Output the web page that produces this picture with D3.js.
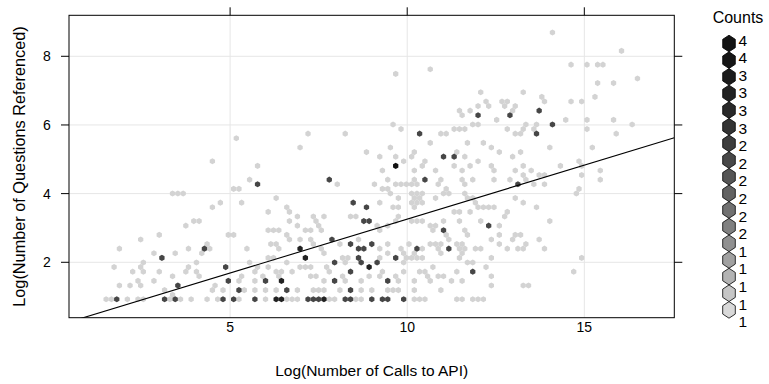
<!DOCTYPE html>
<html>
<head>
<meta charset="utf-8">
<script src="https://cdn.jsdelivr.net/npm/d3@7/dist/d3.min.js"></script>
<style>
html,body{margin:0;padding:0;background:#fff;}
svg{display:block;font-family:"Liberation Sans",Arial,Helvetica,sans-serif;}
</style>
</head>
<body>
<svg id="chart" width="769" height="384"></svg>
<script>
// ---------------- data ----------------
const xLabel = "Log(Number of Calls to API)";
const yLabel = "Log(Number of Questions Referenced)";
const legendTitle = "Counts";
const xTicks = [5, 10, 15];
const yTicks = [2, 4, 6, 8];
const xLimits = [0.452, 17.54];
const yLimits = [0.386, 9.194];
const legendLabels = ["4","4","3","3","3","3","2","2","2","2","2","2","1","1","1","1","1"]; // top to bottom
const fitCoef = [0.117, 0.3141]; // intercept, slope
const binOrigin = [1.80, 0.922];
const binStep = [0.15, 0.134];

// hexagon cells: [log questions, [log calls ...]]
const count1Cells = [
 [0.92,[1.50,1.65,2.10,2.40,2.55,3.30,3.60,3.90,4.35,4.65,5.25,6.00,6.60,6.75,6.90,7.80,7.95,8.55,8.70,10.20,10.35,10.50,11.40,11.55,11.85,12.00,12.15]],
 [1.06,[3.38]],
 [1.19,[3.15,4.50,4.80,5.40,5.70,6.00,6.30,6.90,7.35,7.50,7.65,8.10,8.70,9.00,9.45,9.60,9.75,10.20,10.95]],
 [1.32,[1.88,2.18,2.48,4.58,12.38,13.28,13.43]],
 [1.46,[2.40,2.85,5.25,5.70,7.65,8.25,8.70,9.75,10.20,10.65,11.25,11.55]],
 [1.59,[3.38,4.13,5.33,5.93,6.38,7.28,7.43,8.18,8.93,9.23,9.68,10.58,10.88,11.03,12.38]],
 [1.73,[2.25,2.55,3.00,3.75,4.05,5.70,6.30,6.45,6.75,7.80,9.30,9.90,10.35,10.50,11.40,14.70]],
 [1.86,[1.73,2.48,3.83,5.78,6.08,6.98,7.13,7.28,7.73,10.73,12.23]],
 [2.00,[2.55,4.05,5.55,6.60,8.25,9.90,11.70,11.85]],
 [2.13,[6.08,6.23,8.18,8.33,9.23,9.98,10.13,10.28,10.43,11.48,12.38,14.93]],
 [2.26,[2.85,3.45,4.20,7.65,9.45,9.90,10.20,10.95,11.55]],
 [2.40,[1.88,3.83,4.43,5.48,6.38,7.58,9.23,9.83,10.43,10.88,11.48,11.63,11.93,12.08,12.83,13.13,13.28,13.88]],
 [2.53,[4.35,6.15,6.30,7.35,8.10,9.45,10.05,10.65,10.80,10.95,11.40,11.55,12.60,13.35]],
 [2.66,[2.48,6.68,6.98,7.28,8.63,11.18,12.38,12.98,13.73]],
 [2.80,[3.00,4.95,5.10,6.60,11.10,11.70,12.60,13.05,13.20]],
 [2.93,[6.08,6.23,6.38,7.13,7.28,7.58,9.23,10.73,11.63]],
 [3.07,[3.75,6.90,7.50,9.15,9.45,10.65,10.80,12.60]],
 [3.20,[3.98,4.13,6.68,7.43,9.68,10.13,10.28,10.43,11.03,11.48,12.08,14.03]],
 [3.33,[6.90,7.35,7.65,8.40,8.55,9.75,12.75]],
 [3.47,[6.08,6.68,11.33,11.48,11.78,12.83]],
 [3.60,[4.50,6.60,9.60,9.75,10.20,12.00,12.15,12.30,12.45,13.65]],
 [3.74,[4.73,5.33,9.23,10.13,10.28,10.43,11.93,13.28]],
 [3.87,[6.30,9.75,10.20,10.35,10.80,11.70,11.85,13.05]],
 [4.00,[3.38,3.53,3.68,9.53,10.13,10.28,10.43,11.03,11.18,11.63,14.78]],
 [4.14,[5.10,5.25,9.30,9.45,11.10,14.85]],
 [4.27,[8.03,9.08,9.68,9.83,9.98,10.13,10.28,10.88,11.63,13.58,13.88]],
 [4.41,[5.55,9.45,10.20,10.95,11.55,11.85,12.45,12.90,13.35,15.45]],
 [4.54,[13.28,13.73,13.88,14.93]],
 [4.67,[9.30,10.20,10.80,11.55,12.45,13.05,13.50,15.45]],
 [4.81,[5.78,10.43,11.33,11.78,12.38,13.28,14.33,14.93]],
 [4.94,[4.50,9.90,10.50,12.00,14.85]],
 [5.08,[9.23,9.68,10.13,11.63,12.98]],
 [5.21,[8.85,10.20,11.40,12.60,13.20]],
 [5.34,[6.98,9.53,12.38,14.03,15.23]],
 [5.48,[10.65,11.70,12.15]],
 [5.61,[5.18]],
 [5.75,[7.20,8.25,10.95,11.10,13.05,13.20,15.90]],
 [5.88,[9.83,11.33,11.48,11.63,12.83,13.28,13.58,15.08]],
 [6.01,[9.60,11.85,12.00,13.35,13.65,16.35]],
 [6.15,[12.53,14.48,15.08,15.83]],
 [6.28,[11.55]],
 [6.42,[11.48,11.78,12.98]],
 [6.55,[12.00,12.30,12.75,13.05]],
 [6.68,[12.23,12.68,12.83,13.88,14.63,14.93]],
 [6.82,[13.80,15.30]],
 [6.95,[12.08,13.28]],
 [7.22,[15.38,15.83]],
 [7.35,[16.50]],
 [7.49,[9.68]],
 [7.62,[10.65]],
 [7.76,[14.63,15.08,15.38,15.53]],
 [8.16,[16.05]],
 [8.69,[14.10]]
];
const count2Cells = [
 [0.92,[1.80,3.15,3.45,4.80,5.10,5.70,7.20,7.35,7.50,8.25,8.40,9.00,9.30,9.45,9.90]],
 [1.19,[5.25,6.60,8.40]],
 [1.32,[3.53]],
 [1.46,[4.95,6.00,7.95,9.45]],
 [1.73,[8.40,11.85]],
 [1.86,[4.88]],
 [2.00,[7.95,8.70,9.15]],
 [2.13,[3.08,8.63,9.68]],
 [2.40,[4.28,8.63,8.78,10.28,11.18]],
 [2.53,[8.40,9.00]],
 [2.66,[7.88]],
 [2.93,[11.03]],
 [3.07,[12.30]],
 [3.20,[8.78,8.93]],
 [3.60,[8.85]],
 [3.74,[8.48]],
 [4.27,[5.78,13.13]],
 [4.41,[7.80,10.50]],
 [5.08,[11.03,11.33]],
 [5.75,[10.35,13.65]],
 [6.01,[14.10]],
 [6.28,[12.00,12.90]],
 [6.42,[13.73]]
];
const count3Cells = [
 [0.92,[6.30,6.45,7.65]],
 [1.46,[6.45]],
 [1.86,[8.93]],
 [2.13,[7.13]],
 [2.40,[6.98]]
];
const count4Cells = [
 [4.81,[9.68]]
];

// ---------------- drawing ----------------
const svg = d3.select("#chart");
const panel = {l: 69, r: 674.3, t: 15.3, b: 317.7};
const x = d3.scaleLinear().domain(xLimits).range([panel.l, panel.r]);
const y = d3.scaleLinear().domain(yLimits).range([panel.b, panel.t]);

// hexagonal binning of the cells
const raw = [];
[[count1Cells,1],[count2Cells,2],[count3Cells,3],[count4Cells,4]].forEach(([rows,c]) => {
  rows.forEach(([q, xs]) => xs.forEach(v => raw.push({x: v, y: q, n: c})));
});
function binKey(d) {
  const j = Math.round((d.y - binOrigin[1]) / binStep[1]);
  const off = (Math.abs(j) % 2) * binStep[0] / 2;
  const k = Math.round((d.x - binOrigin[0] - off) / binStep[0]);
  return j + "," + k;
}
const bins = d3.rollups(raw, v => d3.sum(v, d => d.n), binKey).map(([key, n]) => {
  const [j, k] = key.split(",").map(Number);
  const off = (Math.abs(j) % 2) * binStep[0] / 2;
  return {cx: binOrigin[0] + off + k * binStep[0], cy: binOrigin[1] + j * binStep[1], n};
});

const cellFill = n => n >= 4 ? "#121212" : n === 3 ? "#222222" : n === 2 ? "#464646" : "#d3d3d3";
const hexR = (x(binStep[0]) - x(0)) / Math.sqrt(3);
function hexPath(r) {
  const pts = d3.range(6).map(i => {
    const a = Math.PI / 3 * i;
    return [r * Math.sin(a), -r * Math.cos(a)];
  });
  return "M" + pts.map(p => p[0].toFixed(2) + "," + p[1].toFixed(2)).join("L") + "Z";
}

// grid lines
const grid = svg.append("g").attr("stroke", "#e6e6e6").attr("stroke-width", 1);
grid.selectAll("line.gx").data(xTicks).join("line")
  .attr("x1", d => x(d)).attr("x2", d => x(d)).attr("y1", panel.t).attr("y2", panel.b);
grid.selectAll("line.gy").data(yTicks).join("line").attr("class","gy")
  .attr("y1", d => y(d)).attr("y2", d => y(d)).attr("x1", panel.l).attr("x2", panel.r);

// cells
const cellPath = hexPath(hexR * 1.0);
svg.append("g").selectAll("path").data(bins.sort((a,b)=>a.n-b.n)).join("path")
  .attr("d", cellPath)
  .attr("transform", d => `translate(${x(d.cx)},${y(d.cy)})`)
  .attr("fill", d => cellFill(d.n));

// regression line (clipped to panel)
svg.append("clipPath").attr("id", "clipPanel").append("rect")
  .attr("x", panel.l).attr("y", panel.t).attr("width", panel.r - panel.l).attr("height", panel.b - panel.t);
svg.append("line")
  .attr("clip-path", "url(#clipPanel)")
  .attr("x1", x(xLimits[0])).attr("y1", y(fitCoef[0] + fitCoef[1] * xLimits[0]))
  .attr("x2", x(xLimits[1])).attr("y2", y(fitCoef[0] + fitCoef[1] * xLimits[1]))
  .attr("stroke", "#000").attr("stroke-width", 1.1);

// panel box
svg.append("rect").attr("x", panel.l).attr("y", panel.t)
  .attr("width", panel.r - panel.l).attr("height", panel.b - panel.t)
  .attr("fill", "none").attr("stroke", "#000").attr("stroke-width", 1);

// ticks
const tickLen = 8;
const ticks = svg.append("g").attr("stroke", "#000").attr("stroke-width", 1);
ticks.selectAll("line.tt").data(xTicks).join("line").attr("class","tt")
  .attr("x1", d => x(d)).attr("x2", d => x(d)).attr("y1", panel.t).attr("y2", panel.t - tickLen);
ticks.selectAll("line.tl").data(yTicks).join("line").attr("class","tl")
  .attr("y1", d => y(d)).attr("y2", d => y(d)).attr("x1", panel.l).attr("x2", panel.l - tickLen);
ticks.selectAll("line.tr").data(yTicks).join("line").attr("class","tr")
  .attr("y1", d => y(d)).attr("y2", d => y(d)).attr("x1", panel.r).attr("x2", panel.r + tickLen);

// tick labels
svg.append("g").selectAll("text").data(xTicks).join("text")
  .attr("x", d => x(d)).attr("y", 332).attr("text-anchor", "middle")
  .attr("font-size", 14).text(d => d);
svg.append("g").selectAll("text").data(yTicks).join("text")
  .attr("x", 47).attr("y", d => y(d) + 5).attr("text-anchor", "middle")
  .attr("font-size", 14).text(d => d);

// axis titles
svg.append("text").attr("x", (panel.l + panel.r) / 2).attr("y", 376)
  .attr("text-anchor", "middle").attr("font-size", 15.5).text(xLabel);
svg.append("text").attr("transform", `translate(25,${(panel.t + panel.b) / 2}) rotate(-90)`)
  .attr("text-anchor", "middle").attr("font-size", 16.3).text(yLabel);

// legend
const nLev = legendLabels.length;
const legendGray = i => { // i = 0 top (dark) ... nLev-1 bottom (light)
  const t = 1 - i / (nLev - 1);
  const g = Math.round(20 + 197 * Math.pow(1 - t, 1.6));
  return d3.rgb(g, g, g).toString();
};
svg.append("text").attr("x", 738).attr("y", 23).attr("text-anchor", "middle")
  .attr("font-size", 16).text(legendTitle);
const legHex = "M0,-8.3L6.3,-4.15L6.3,4.15L0,8.3L-6.3,4.15L-6.3,-4.15Z";
const lg = svg.append("g");
lg.selectAll("path").data(legendLabels).join("path")
  .attr("d", legHex)
  .attr("transform", (d, i) => `translate(729,${43.5 + 16.65 * i})`)
  .attr("fill", (d, i) => legendGray(i))
  .attr("stroke", "#000").attr("stroke-width", 0.8);
lg.selectAll("text").data(legendLabels).join("text")
  .attr("x", 738.5).attr("y", (d, i) => 45.5 + 17.6 * i)
  .attr("font-size", 15.5).text(d => d);
</script>
</body>
</html>
